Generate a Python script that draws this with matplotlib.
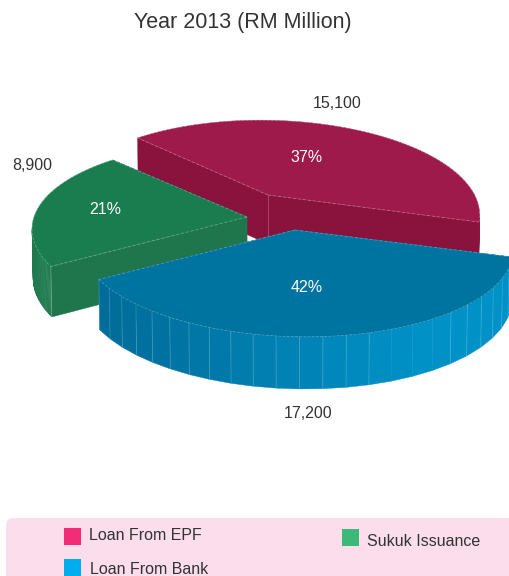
import numpy as np
import matplotlib
matplotlib.use("Agg")
import matplotlib.pyplot as plt
from matplotlib.patches import Polygon, Rectangle, FancyBboxPatch
from matplotlib.colors import to_rgb

# Data (order round the pie, counter-clockwise from the right)
categories = ['Loan From EPF', 'Sukuk Issuance', 'Loan From Bank']
values = [15100, 8900, 17200]
value_labels = ['15,100', '8,900', '17,200']
percent_labels = ['37%', '21%', '42%']

# Style and layout, in image pixels
top_colors = ['#9E1A4A', '#1A7D50', '#0074A0']
face_colors = ['#8A133E', '#1F764D', '#006D9A']
rim_left = ['#8A133E', '#1E7A4E', '#006B98']
rim_right = ['#8A133E', '#1E7A4E', '#0091C7']
legend_colors = ['#F22C76', '#3CB878', '#00AEEF']
apexes = [(268, 195), (247, 217), (295, 230)]
rx_scale = [0.97, 1.0, 1.0]
value_pos = [(337, 103), (32, 165), (308, 414)]
percent_pos = [(307, 158), (105, 209), (307, 287)]
legend_pos = [(64, 528, 89, 536), (342, 529, 367, 541), (64, 559, 90, 570)]

# view of the pie
RX = 213
RY = 88
PERSP = 0.176
SKEW = 0.1
DEPTH = 49
LOW_Y = 1.03

plt.rcParams['font.family'] = ['Liberation Sans', 'DejaVu Sans']
TEXT = '#333333'


def view_angle(theta):
    # the chart's 3D view bends the slice angles a little
    return theta + np.radians(-6.9) + np.radians(10.2) * np.cos(theta - np.radians(171))


def project(theta, scale):
    ang = view_angle(theta)
    u, v = np.cos(ang), np.sin(ang)
    w = 1 + PERSP * v
    y = -RY * v / w
    return np.column_stack([scale * RX * u / w + SKEW * y, y])


spans = 2 * np.pi * np.array(values) / sum(values)
edges = np.concatenate([[0], np.cumsum(spans)])

fig = plt.figure(figsize=(5.09, 5.76), dpi=100)
ax = fig.add_axes([0, 0, 1, 1])
ax.set_xlim(0, 509)
ax.set_ylim(576, 0)
ax.axis('off')


def poly(points, color, z):
    ax.add_patch(Polygon(points, closed=True, facecolor=color, edgecolor=color,
                         linewidth=0.3, zorder=z))


for i in range(3):
    z = 10 * (i + 1)
    apex = np.array(apexes[i], dtype=float)
    arc_ang = np.linspace(edges[i], edges[i + 1], 121)
    rim = project(arc_ang, rx_scale[i])
    top = apex + rim
    low = apex + rim * [0.995, LOW_Y] + [0, DEPTH]
    apex_low = apex + [0, DEPTH]

    # radial walls
    poly([apex, top[0], low[0], apex_low], face_colors[i], z)
    poly([apex, top[-1], low[-1], apex_low], face_colors[i], z + 1)

    # outer wall, only the facets that face the viewer
    step = 5 if i == 2 else 1
    c0, c1 = np.array(to_rgb(rim_left[i])), np.array(to_rgb(rim_right[i]))
    x_min, x_max = top[:, 0].min(), top[:, 0].max()
    for k in range(0, 120, step):
        k2 = min(k + step, 120)
        if top[k2, 0] <= top[k, 0]:
            continue
        t = ((top[k, 0] + top[k2, 0]) / 2 - x_min) / (x_max - x_min)
        col = c0 + (c1 - c0) * np.clip(t * 1.3, 0, 1)
        poly([top[k], top[k2], low[k2], low[k]], tuple(col), z + 2)
        # the reference has no facet lines on the bright stretch
        if i == 2 and not 380 < top[k, 0] < 450:
            ax.plot([top[k, 0], low[k, 0]], [top[k, 1], low[k, 1]], color='white',
                    alpha=0.2, lw=0.6, zorder=z + 3)

    # faint vertical edges on the solid corners
    if i == 0:
        ax.plot([apex[0], apex[0]], [apex[1], apex_low[1]], color='white', alpha=0.25,
                lw=0.6, zorder=z + 3)
    if i == 1:
        ax.plot([top[-1, 0], low[-1, 0]], [top[-1, 1], low[-1, 1]], color='white', alpha=0.3,
                lw=0.6, zorder=z + 3)

    # lid
    poly(np.vstack([apex, top]), top_colors[i], z + 4)
    ax.plot(top[:, 0], top[:, 1], color='white', alpha=0.3, lw=0.5, ls=(0, (4, 2)), zorder=z + 5)
    for end in (0, -1):
        ax.plot([apex[0], top[end, 0]], [apex[1], top[end, 1]], color='white', alpha=0.3,
                lw=0.6, ls=(0, (4, 2)), zorder=z + 5)
    ax.text(*percent_pos[i], percent_labels[i], color='white', fontsize=11.5,
            ha='center', va='center', zorder=60)
    ax.text(*value_pos[i], value_labels[i], color=TEXT, fontsize=11.5,
            ha='center', va='center', zorder=60)

ax.text(243, 22.5, 'Year 2013 (RM Million)', color=TEXT, fontsize=15.5, ha='center', va='center')

# legend box runs off the right and bottom of the image
ax.add_patch(FancyBboxPatch((6, 518), 520, 80, boxstyle='round,pad=0,rounding_size=8',
                            facecolor='#FBDDEC', edgecolor='none', zorder=1))
for name, col, (sx, sy, tx, ty) in zip(categories, legend_colors, legend_pos):
    ax.add_patch(Rectangle((sx, sy), 17, 17, facecolor=col, edgecolor='none', zorder=2))
    ax.text(tx, ty, name, color=TEXT, fontsize=11.5, ha='left', va='center', zorder=2)

fig.savefig('out.png', dpi=100)
